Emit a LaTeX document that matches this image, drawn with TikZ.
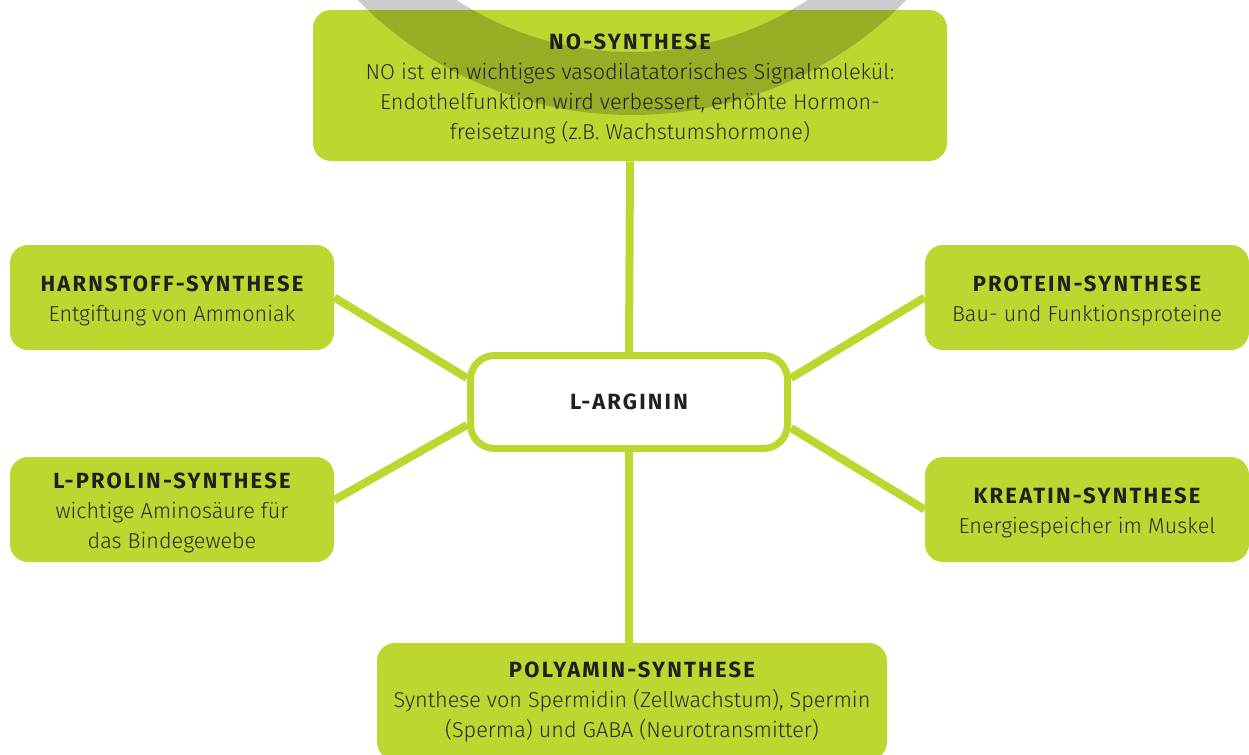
\documentclass[tikz,border=0pt]{standalone}
\usepackage{fontspec}
\setmainfont{Fira Sans Light}[BoldFont = Fira Sans Bold]
\usepackage{tikz}
\usetikzlibrary{positioning}
\definecolor{lime}{HTML}{BED730}
\definecolor{titleink}{HTML}{231F20}
\definecolor{bodyink}{HTML}{2B2B26}
\newcommand{\hubhead}[1]{{\color{titleink}\fontsize{11}{15}\selectfont
  \bfseries\addfontfeatures{LetterSpace=10}#1}}
\newcommand{\synhead}[1]{\rule{0pt}{11.5pt}\hubhead{#1}}
\tikzstyle{synth} = [rectangle, rounded corners = 9pt, fill = lime,
  text = bodyink, align = center, inner sep = 0,
  font = \fontsize{10.8}{15}\selectfont]
\tikzstyle{side} = [synth, minimum width = 162pt, minimum height = 52.5pt]
\tikzstyle{hub} = [
  rectangle, rounded corners = 12pt,
  minimum width = 158.5pt, minimum height = 46.5pt,
  draw = lime, line width = 3.5pt, fill = white
]
\tikzstyle{link} = [draw = lime, line width = 4pt]

\begin{document}
\begin{tikzpicture}[x = 0.5pt, y = -0.5pt, node distance = 0]
      \clip (0, 0) rectangle (1249, 755);
      % centre
      \node [hub] (arginin) at (629, 402) {\hubhead{L-ARGININ}};
      % top and bottom
      \node [synth, minimum width = 317pt, minimum height = 75.5pt,
        above of = arginin, xshift = 0.5pt, yshift = 158.25pt] (no-synth)
        {\synhead{NO-SYNTHESE}\\
         NO ist ein wichtiges vasodilatatorisches Signalmolekül:\\
         Endothelfunktion wird verbessert, erhöhte Hormon-\\
         freisetzung (z.B. Wachstumshormone)};
      \node [synth, minimum width = 255pt, minimum height = 58.5pt,
        below of = arginin, xshift = 1.5pt, yshift = -149.75pt] (polyamin)
        {\hubhead{POLYAMIN-SYNTHESE}\\
         Synthese von Spermidin (Zellwachstum), Spermin\\
         (Sperma) und GABA (Neurotransmitter)};
      % left
      \node [side, left of = arginin, xshift = -228.5pt, yshift = 52.25pt]
        (harnstoff) {\synhead{HARNSTOFF-SYNTHESE}\\ Entgiftung von Ammoniak};
      \node [side, left of = arginin, xshift = -228.5pt, yshift = -53.75pt]
        (prolin) {\synhead{L-PROLIN-SYNTHESE}\\ wichtige Aminosäure für\\
        das Bindegewebe};
      % right
      \node [side, right of = arginin, xshift = 229pt, yshift = 52.25pt]
        (protein) {\synhead{PROTEIN-SYNTHESE}\\ Bau- und Funktionsproteine};
      \node [side, right of = arginin, xshift = 229pt, yshift = -53.75pt]
        (kreatin) {\synhead{KREATIN-SYNTHESE}\\ Energiespeicher im Muskel};

      \draw [link] (no-synth.south) -- (arginin.north);
      \draw [link] (arginin.south) -- (arginin.south |- polyamin.north);
      \draw [link] (harnstoff.east) -- ([yshift = 12pt]arginin.west);
      \draw [link] ([yshift = 4.75pt]prolin.east) -- ([yshift = -11.5pt]arginin.west);
      \draw [link] (protein.west) -- ([yshift = 12pt]arginin.east);
      \draw [link] (kreatin.west) -- ([yshift = -13pt]arginin.east);

      % grey ring over the top
      \draw [black, opacity = 0.2, line width = 31.5pt] (632, -270)
        circle [radius = 176.75pt];
\end{tikzpicture}
\end{document}
